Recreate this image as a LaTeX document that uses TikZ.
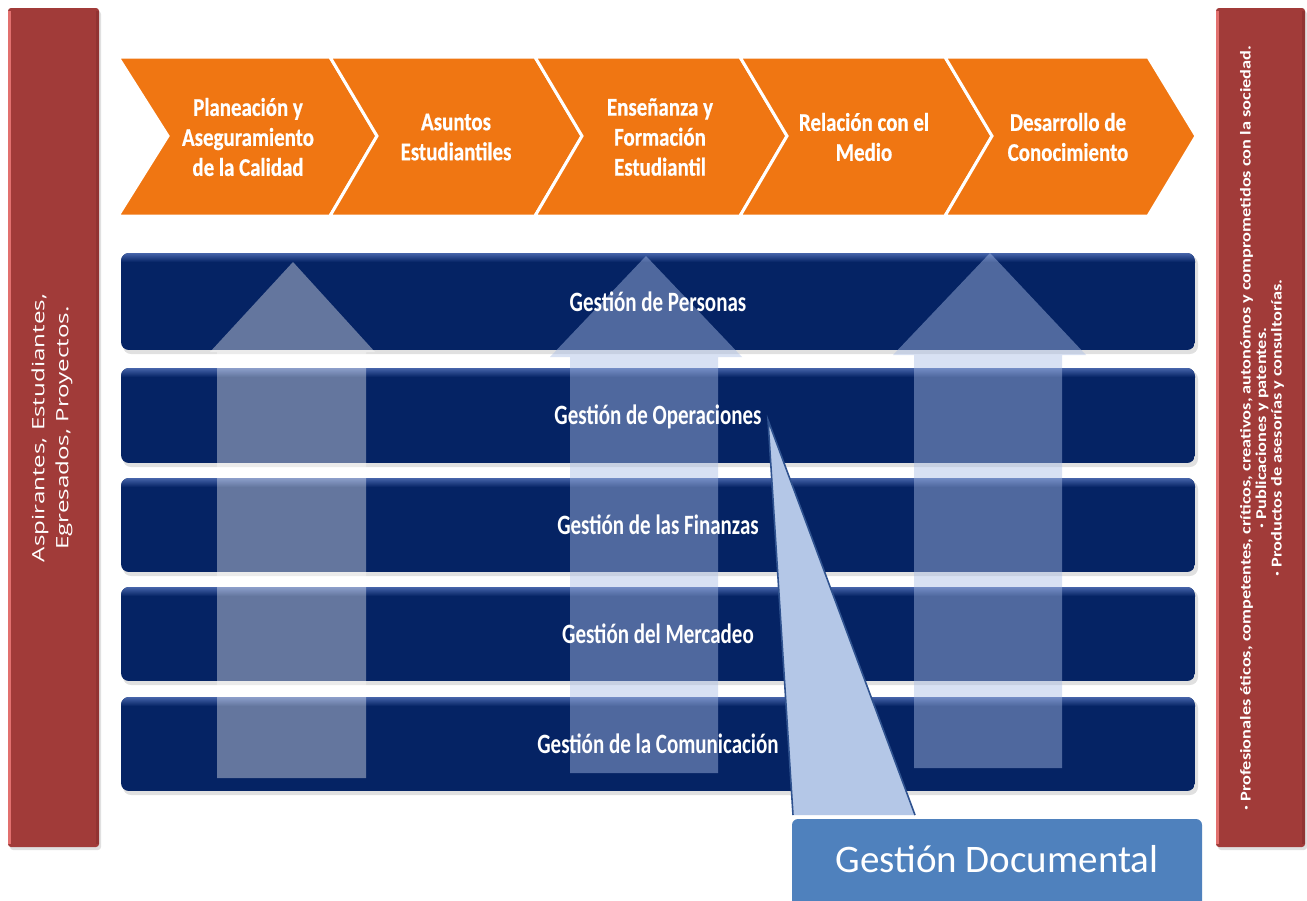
\documentclass[tikz,border=0pt]{standalone}
\usepackage{fontspec}
\setmainfont{Carlito}
\newfontfamily\chevfont[FakeStretch=0.82,FakeBold=0.6]{Carlito}
\newfontfamily\barfont[FakeStretch=0.75]{Carlito}
\newfontfamily\leftfont[FakeStretch=1.42]{Open Sans}
\newfontfamily\rightfont[FakeStretch=1.22]{Carlito}
\usetikzlibrary{calc}
\definecolor{orangeC}{RGB}{240,118,18}
\definecolor{navyC}{RGB}{5,35,100}
\definecolor{navyTop}{RGB}{70,100,170}
\definecolor{redC}{RGB}{161,59,57}
\definecolor{redHi}{RGB}{226,112,110}
\definecolor{redDk}{RGB}{130,45,44}
\definecolor{calloutFill}{RGB}{180,199,231}
\definecolor{calloutLine}{RGB}{47,82,143}
\definecolor{docBlue}{RGB}{79,129,189}
\definecolor{arrowBlue}{RGB}{170,190,230}
\tikzset{
  chev/.style={fill=orangeC, draw=white, line width=3pt, line join=miter},
  chevtext/.style={text=white, align=center, font=\chevfont\bfseries\fontsize{25.5}{30}\selectfont},
  bartext/.style={text=white, font=\barfont\bfseries\fontsize{28}{30}\selectfont},
  sidebar/.style={fill=redC, rounded corners=3pt},
  arrowA/.style={fill=white, fill opacity=0.38},
  arrowB/.style={fill=arrowBlue, fill opacity=0.45},
}
\newcommand{\gbar}[3]{%
  \fill[black, opacity=0.12, rounded corners=8pt] (123,#1+3) rectangle (1198,#2+4);
  \begin{scope}
    \clip[rounded corners=8pt] (121,#1) rectangle (1195,#2);
    \fill[navyC] (121,#1) rectangle (1195,#2);
    \shade[top color=navyTop, bottom color=navyC] (121,#1) rectangle (1195,#1+9);
  \end{scope}
  \node[coordinate] (#3) at (658,{(#1+#2)/2}) {};
}
\begin{document}
\begin{tikzpicture}[x=1pt,y=-1pt]
\useasboundingbox (0,0) rectangle (1307,900);
\clip (0,0) rectangle (1307,900);
\fill[white] (0,0) rectangle (1307,900);

% side bars
\fill[black, opacity=0.12, rounded corners=3pt] (10,11) rectangle (101,850);
\fill[sidebar] (8,8) rectangle (99,847);
\fill[redHi] (8,11) rectangle (11,844);
\fill[redDk, opacity=0.5] (96,11) rectangle (99,844);
\node[rotate=90, text=white, align=center, font=\leftfont\fontsize{17}{24}\selectfont] (inputs) at (52,428)
  {Aspirantes, Estudiantes,\\Egresados, Proyectos.};

\fill[black, opacity=0.12, rounded corners=3pt] (1218,11) rectangle (1307,850);
\fill[sidebar] (1216,8) rectangle (1305,847);
\fill[redHi] (1216,11) rectangle (1219,844);
\fill[redDk, opacity=0.5] (1302,11) rectangle (1305,844);
\node[rotate=90, text=white, align=center, font=\rightfont\bfseries\fontsize{15}{15.5}\selectfont] (outputs) at (1262,428)
  {· Profesionales éticos, competentes, críticos, creativos, autonómos y comprometidos con la sociedad.\\
   · Publicaciones y patentes.\\
   · Productos de asesorías y consultorías.};

% chevrons
\path[chev] (118,57) -- (330,57) -- (377,136) -- (330,216) -- (118,216) -- (168,136) -- cycle;
\path[chev] (330,57) -- (535,57) -- (582,136) -- (535,216) -- (330,216) -- (377,136) -- cycle;
\path[chev] (535,57) -- (740,57) -- (787,136) -- (740,216) -- (535,216) -- (582,136) -- cycle;
\path[chev] (740,57) -- (945,57) -- (992,136) -- (945,216) -- (740,216) -- (787,136) -- cycle;
\path[chev] (945,57) -- (1148,57) -- (1196,136) -- (1148,216) -- (945,216) -- (992,136) -- cycle;
\node[chevtext] (c1) at (248,137) {Planeación y\\Aseguramiento\\de la Calidad};
\node[chevtext] (c2) at (456,137) {Asuntos\\Estudiantiles};
\node[chevtext] (c3) at (660,137) {Enseñanza y\\Formación\\Estudiantil};
\node[chevtext] (c4) at (864,137) {Relación con el\\Medio};
\node[chevtext] (c5) at (1068,137) {Desarrollo de\\Conocimiento};

% management bars
\gbar{253}{350}{b1}
\gbar{368}{463}{b2}
\gbar{478}{572}{b3}
\gbar{587}{681}{b4}
\gbar{697}{791}{b5}

% translucent up arrows
\fill[arrowA] (293,262) -- (375,352) -- (366,352) -- (366,778) -- (217,778) -- (217,352) -- (210,352) -- cycle;
\fill[arrowB] (646,256) -- (742,357) -- (718,357) -- (718,773) -- (570,773) -- (570,357) -- (550,357) -- cycle;
\fill[arrowB] (990,253) -- (1086,355) -- (1062,355) -- (1062,768) -- (914,768) -- (914,355) -- (893,355) -- cycle;

% bar labels
\node[bartext] (g1) at (b1) {Gestión de Personas};
\node[bartext] (g2) at ($(b2)+(0,1)$) {Gestión de Operaciones};
\node[bartext] (g3) at (b3) {Gestión de las Finanzas};
\node[bartext] (g4) at (b4) {Gestión del Mercadeo};
\node[bartext] (g5) at (b5) {Gestión de la Comunicación};

% document box and callout
\path[fill=docBlue, rounded corners=6pt] (792,819) rectangle (1202,930);
\node[text=white, font=\fontsize{39}{42}\selectfont] (doc) at (997,859) {Gestión Documental};
\coordinate (apex) at (768,420);
\coordinate (cl) at (793,815);
\coordinate (cr) at (915,815);
\fill[calloutFill] (apex) -- (cl) -- (cr) -- cycle;
\draw[calloutLine, line width=1.6pt] (cl) -- (apex) -- (cr);
\end{tikzpicture}
\end{document}
